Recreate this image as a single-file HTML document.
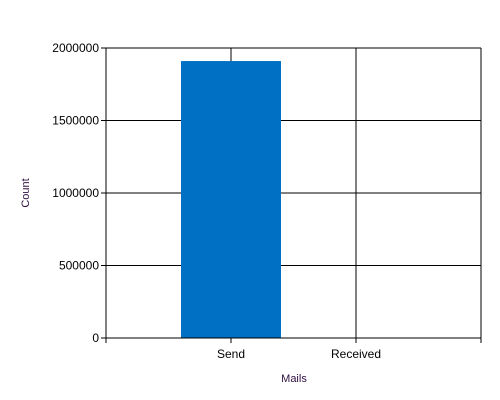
<!DOCTYPE html>
<html><head><style>body{margin:0;background:#fff}svg{display:block;font-family:"Liberation Sans",sans-serif}</style></head>
<body>
<svg id="c" width="500" height="400"></svg>
<script>
const categories=["Send","Received"];
const counts=[1910000,0];
const yTicks=[0,500000,1000000,1500000,2000000];
const NS="http://www.w3.org/2000/svg";
const svg=document.getElementById('c');
const L=106,R=481,T=48,B=338,yMax=2000000,xMax=3;
const y=v=>B-(v/yMax)*(B-T);
const x=i=>L+(i/xMax)*(R-L);
function el(t,a,txt){const e=document.createElementNS(NS,t);for(const k in a)e.setAttribute(k,a[k]);if(txt!==undefined)e.textContent=txt;svg.appendChild(e);return e;}
yTicks.forEach(v=>{
 const g=el('line',{x1:L-5,x2:R,y1:y(v),y2:y(v),stroke:'#000','stroke-width':1});
 
 
 const t=el('text',{x:L-7,y:y(v)+4,'text-anchor':'end','font-size':12},String(v));
 
 
});
for(let i=1;i<=xMax;i++){
 const g=el('line',{x1:x(i),x2:x(i),y1:T,y2:B+5,stroke:'#000','stroke-width':1});
 
 
}
categories.forEach((c,i)=>{
 const cx=x(i+1);
 const b=el('rect',{x:cx-50,width:100,y:y(counts[i]),height:B-y(counts[i]),fill:'#0070c4'});
 
 
 const t=el('text',{x:cx,y:B+20,'text-anchor':'middle','font-size':12},c);
 
 
});
const ax=el('line',{x1:L,x2:L,y1:T,y2:B+5,stroke:'#000'});


const ax2=el('line',{x1:L,x2:R,y1:B,y2:B,stroke:'#000'});


const xt=el('text',{x:294,y:382,'text-anchor':'middle','font-size':11,fill:'#301040'},'Mails');


const yt=el('text',{x:0,y:0,'text-anchor':'middle','font-size':11,fill:'#301040',transform:'translate(29,193) rotate(-90)'},'Count');


</script>
</body></html>
